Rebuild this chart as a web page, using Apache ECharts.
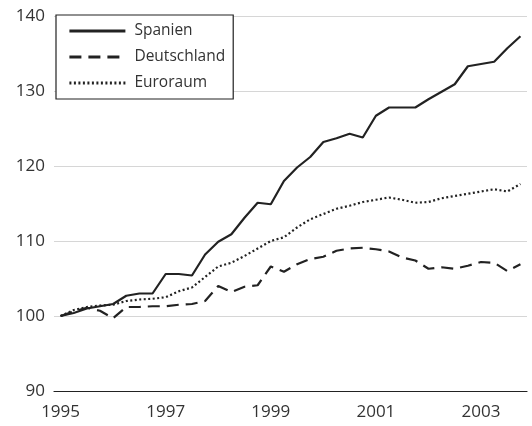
<!DOCTYPE html>
<html>
<head>
<meta charset="utf-8">
<script src="https://cdn.jsdelivr.net/npm/echarts@6/dist/echarts.min.js"></script>
<style>
  html, body { margin: 0; padding: 0; background: #fff; }
  #chart { width: 532px; height: 426px; }
</style>
</head>
<body>
<div id="chart"></div>
<script>
// Quartalswerte, 1995 Q1 = 100
let years = [1995, 1996, 1997, 1998, 1999, 2000, 2001, 2002, 2003];
let yTicks = [90, 100, 110, 120, 130, 140];
let seriesNames = ["Spanien", "Deutschland", "Euroraum"];

let spanien = [100.0, 100.4, 101.0, 101.3, 101.6, 102.7, 103.0, 103.0, 105.6, 105.6, 105.4, 108.2,
    109.9, 110.9, 113.1, 115.1, 114.9, 118.0, 119.8, 121.2, 123.2, 123.7, 124.3, 123.8,
    126.7, 127.8, 127.8, 127.8, 128.9, 129.9, 130.9, 133.3, 133.6, 133.9, 135.7, 137.3];
let deutschland = [100.0, 100.6, 101.1, 100.7, 99.7, 101.2, 101.2, 101.3, 101.3, 101.5, 101.6, 102.0,
    104.0, 103.2, 103.9, 104.1, 106.6, 105.9, 106.9, 107.6, 107.9, 108.7, 109.0, 109.1,
    108.9, 108.6, 107.8, 107.4, 106.3, 106.5, 106.3, 106.7, 107.2, 107.1, 106.0, 106.9];
let euroraum = [100.0, 100.8, 101.2, 101.4, 101.5, 102.0, 102.2, 102.3, 102.5, 103.3, 103.8, 105.2,
    106.6, 107.1, 108.0, 109.0, 110.0, 110.5, 111.8, 112.9, 113.6, 114.3, 114.7, 115.2,
    115.5, 115.8, 115.5, 115.1, 115.2, 115.7, 116.0, 116.3, 116.6, 116.9, 116.6, 117.6];

// Kategorien: jedes Quartal
let categories = [];
years.forEach(function (y) {
    for (let q = 1; q <= 4; q++) categories.push(y + " Q" + q);
});

let font = "'Open Sans', 'Noto Sans', sans-serif";
let ink = "#222";

let myEcharts = echarts.init(document.getElementById("chart"));
let option = {
    animation: false,
    textStyle: { fontFamily: font },
    grid: { left: 54, right: 5, top: 16, bottom: 35 },
    legend: {
        orient: "vertical",
        left: 56,
        top: 15,
        padding: [8, 8, 8, 12],
        itemGap: 10,
        itemWidth: 56,
        itemHeight: 15,
        backgroundColor: "#fff",
        borderColor: ink,
        borderWidth: 1.2,
        borderRadius: 0,
        data: seriesNames,
        itemStyle: { opacity: 0 },
        lineStyle: { width: 2.8 },
        textStyle: { fontFamily: font, fontSize: 15.5, color: "#333", lineHeight: 15, padding: [0, 0, 0, 4] }
    },
    xAxis: {
        type: "category",
        data: categories,
        boundaryGap: true,
        axisLine: { lineStyle: { color: ink, width: 1.2 } },
        axisTick: { interval: 0, length: 5, lineStyle: { color: ink, width: 1.2 } },
        axisLabel: {
            interval: function (i) { return i % 8 === 0; },
            formatter: function (v) { return v.slice(0, 4); },
            fontFamily: font,
            fontSize: 17,
            color: "#333",
            margin: 13
        },
        splitLine: { show: false }
    },
    yAxis: {
        type: "value",
        min: yTicks[0],
        max: yTicks[yTicks.length - 1],
        interval: 10,
        axisLine: { show: false },
        axisTick: { show: false },
        axisLabel: { fontFamily: font, fontSize: 17, color: "#333", margin: 9 },
        splitLine: { lineStyle: { color: "#d6d6d6", width: 1.2 } }
    },
    series: [
        {
            name: seriesNames[0], type: "line", data: spanien,
            symbol: "none", color: ink,
            lineStyle: { color: ink, width: 2.2, type: "solid" }
        },
        {
            name: seriesNames[1], type: "line", data: deutschland,
            symbol: "none", color: ink,
            lineStyle: { color: ink, width: 2.2, type: [12, 7] }
        },
        {
            name: seriesNames[2], type: "line", data: euroraum,
            symbol: "none", color: ink,
            lineStyle: { color: ink, width: 2.2, type: [2, 2.5] }
        }
    ]
};
myEcharts.setOption(option);
</script>
</body>
</html>
